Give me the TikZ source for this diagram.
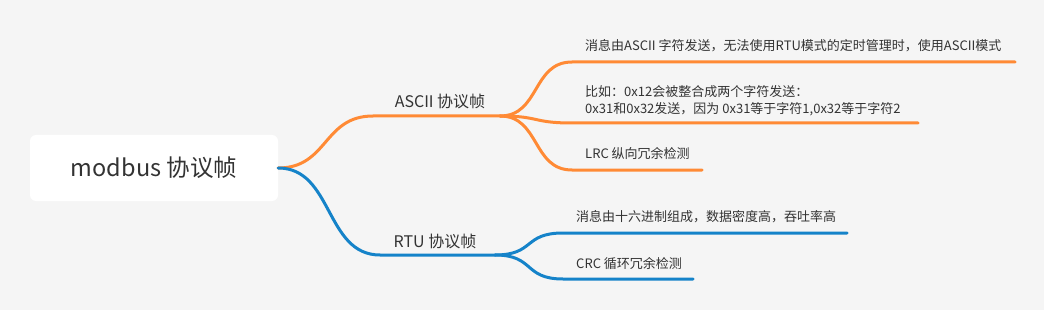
\documentclass[tikz,border=0pt]{standalone}
\usepackage{fontspec}
\newfontfamily\cjk{Noto Sans CJK SC}
\usetikzlibrary{calc}
\definecolor{bg}{HTML}{F5F5F5}
\definecolor{ink}{HTML}{333333}
\definecolor{corange}{HTML}{FF8A35}
\definecolor{cblue}{HTML}{1583C9}
\tikzset{
  topic/.style={fill=white, rounded corners=6pt, minimum width=248pt, minimum height=66pt,
                font=\cjk\fontsize{23.5}{27}\selectfont, text=ink},
  branch/.style={font=\cjk\fontsize{16}{19}\selectfont, text=ink, inner sep=0pt},
  leaf/.style={anchor=west, font=\cjk\fontsize{13}{17}\selectfont, text=ink,
               inner sep=0pt, align=left},
  % ---- smooth mind-map connectors ----
  curvy/.style={to path={(\tikztostart) .. controls ($(\tikztostart)+(#1,0)$)
                and ($(\tikztotarget)+(-#1,0)$) .. (\tikztotarget)}},
  curvy/.default=40,
  ascline/.style={draw=corange, line width=3pt, line cap=round},
  rtuline/.style={draw=cblue, line width=3pt, line cap=round},
}

\begin{document}
\begin{tikzpicture}[x=1pt, y=-1pt]
  \fill[bg] (0,0) rectangle (1044,310);
  % root
  \node[topic] (root) at (154,168) {modbus 协议帧};
  % branches
  \node[branch] (ascii) at (440,101) {ASCII 协议帧};
  \node[branch] (rtu) at (435,241) {RTU 协议帧};
  \coordinate (ascii-in) at (373,116);
  \coordinate (ascii-out) at (500,116);
  \coordinate (rtu-in) at (380,255);
  \coordinate (rtu-out) at (495,255);
  % leaves
  \node[leaf] (a1) at (585,46) {消息由ASCII 字符发送，无法使用RTU模式的定时管理时，使用ASCII模式};
  \node[leaf] (a2) at (585,100.5) {比如：0x12会被整合成两个字符发送：\\0x31和0x32发送，因为 0x31等于字符1,0x32等于字符2};
  \node[leaf] (a3) at (585,154) {LRC 纵向冗余检测};
  \node[leaf] (r1) at (576,217) {消息由十六进制组成，数据密度高，吞吐率高};
  \node[leaf] (r2) at (576,264) {CRC 循环冗余检测};
  \coordinate (a1-in) at (572,62);   \coordinate (a1-end) at (1015,62);
  \coordinate (a2-in) at (572,123);  \coordinate (a2-end) at (918,123);
  \coordinate (a3-in) at (572,170);  \coordinate (a3-end) at (702,170);
  \coordinate (r1-in) at (563,233);  \coordinate (r1-end) at (847,233);
  \coordinate (r2-in) at (563,279);  \coordinate (r2-end) at (693,279);
  % connectors
  \draw[ascline] (root.east) to[curvy=50] (ascii-in) -- (ascii-out);
  \draw[rtuline] (root.east) to[curvy=55] (rtu-in) -- (rtu-out);
  \foreach \n in {a1,a2,a3}{ \draw[ascline] (ascii-out) to[curvy] (\n-in) -- (\n-end); }
  \foreach \n in {r1,r2}{ \draw[rtuline] (rtu-out) to[curvy] (\n-in) -- (\n-end); }
\end{tikzpicture}
\end{document}
